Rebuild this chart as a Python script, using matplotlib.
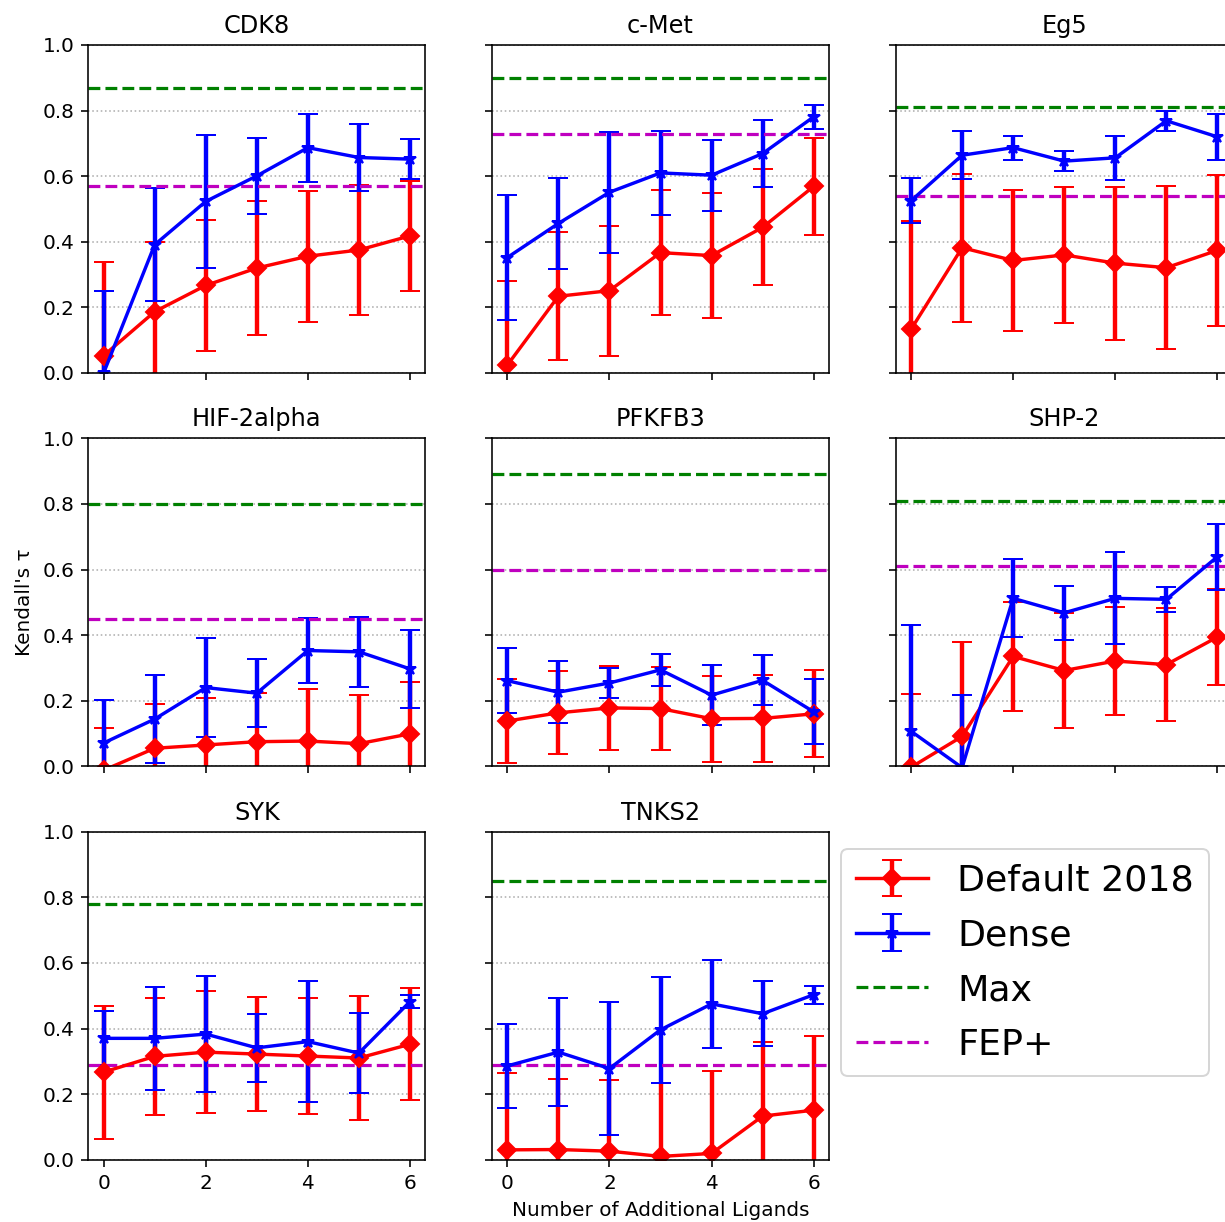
import matplotlib
matplotlib.use("Agg")
import matplotlib.pyplot as plt
import numpy as np

x = [0, 1, 2, 3, 4, 5, 6]
targets = ["CDK8", "c-Met", "Eg5", "HIF-2alpha", "PFKFB3", "SHP-2", "SYK", "TNKS2"]

default_mean = {
    "CDK8":       [0.053, 0.187, 0.267, 0.320, 0.356, 0.375, 0.418],
    "c-Met":      [0.024, 0.234, 0.251, 0.367, 0.358, 0.444, 0.569],
    "Eg5":        [0.133, 0.382, 0.343, 0.360, 0.335, 0.321, 0.374],
    "HIF-2alpha": [-0.012, 0.055, 0.065, 0.075, 0.077, 0.069, 0.099],
    "PFKFB3":     [0.138, 0.163, 0.178, 0.176, 0.145, 0.146, 0.160],
    "SHP-2":      [-0.003, 0.091, 0.335, 0.292, 0.321, 0.310, 0.394],
    "SYK":        [0.267, 0.315, 0.328, 0.322, 0.316, 0.310, 0.352],
    "TNKS2":      [0.030, 0.031, 0.026, 0.010, 0.019, 0.133, 0.151],
}
default_err = {
    "CDK8":       [0.285, 0.212, 0.200, 0.205, 0.200, 0.197, 0.168],
    "c-Met":      [0.255, 0.195, 0.198, 0.190, 0.190, 0.177, 0.148],
    "Eg5":        [0.330, 0.225, 0.216, 0.208, 0.233, 0.248, 0.230],
    "HIF-2alpha": [0.129, 0.136, 0.143, 0.147, 0.158, 0.149, 0.157],
    "PFKFB3":     [0.129, 0.127, 0.128, 0.126, 0.131, 0.132, 0.133],
    "SHP-2":      [0.222, 0.287, 0.167, 0.176, 0.166, 0.173, 0.146],
    "SYK":        [0.203, 0.179, 0.187, 0.174, 0.177, 0.188, 0.171],
    "TNKS2":      [0.233, 0.215, 0.216, 0.224, 0.251, 0.226, 0.225],
}
dense_mean = {
    "CDK8":       [0.000, 0.391, 0.523, 0.601, 0.687, 0.657, 0.652],
    "c-Met":      [0.352, 0.456, 0.551, 0.610, 0.603, 0.669, 0.781],
    "Eg5":        [0.525, 0.664, 0.687, 0.646, 0.656, 0.769, 0.720],
    "HIF-2alpha": [0.071, 0.144, 0.240, 0.223, 0.353, 0.349, 0.297],
    "PFKFB3":     [0.261, 0.226, 0.254, 0.294, 0.217, 0.262, 0.166],
    "SHP-2":      [0.107, -0.004, 0.512, 0.468, 0.512, 0.509, 0.639],
    "SYK":        [0.370, 0.370, 0.383, 0.341, 0.360, 0.325, 0.482],
    "TNKS2":      [0.286, 0.328, 0.278, 0.396, 0.475, 0.445, 0.503],
}
dense_err = {
    "CDK8":       [0.249, 0.172, 0.203, 0.115, 0.104, 0.101, 0.062],
    "c-Met":      [0.190, 0.140, 0.185, 0.128, 0.108, 0.101, 0.036],
    "Eg5":        [0.068, 0.073, 0.037, 0.030, 0.068, 0.030, 0.071],
    "HIF-2alpha": [0.130, 0.134, 0.150, 0.104, 0.098, 0.107, 0.120],
    "PFKFB3":     [0.100, 0.095, 0.045, 0.048, 0.091, 0.076, 0.099],
    "SHP-2":      [0.324, 0.222, 0.119, 0.082, 0.140, 0.039, 0.100],
    "SYK":        [0.082, 0.158, 0.178, 0.103, 0.185, 0.122, 0.020],
    "TNKS2":      [0.127, 0.165, 0.204, 0.161, 0.133, 0.099, 0.027],
}
max_tau = [0.87, 0.90, 0.81, 0.80, 0.89, 0.81, 0.78, 0.85]
fep_tau = [0.57, 0.73, 0.54, 0.45, 0.60, 0.61, 0.29, 0.29]

W, H = 1225, 1222
DPI = 144
fig = plt.figure(figsize=(W / DPI, H / DPI), dpi=DPI)

col_left = [88.3, 492.0, 895.7]
row_top = [45.0, 438.3, 831.7]
ax_w, ax_h = 337.0, 328.0

axes = []
for i, t in enumerate(targets):
    r, c = divmod(i, 3)
    ax = fig.add_axes([col_left[c] / W, (H - row_top[r] - ax_h) / H, ax_w / W, ax_h / H])
    axes.append(ax)
    h1 = ax.errorbar(x, default_mean[t], yerr=default_err[t], color='red', marker='D',
                     markersize=6.5, elinewidth=2.2, capsize=5, lw=1.7, label='Default 2018')
    h2 = ax.errorbar(x, dense_mean[t], yerr=dense_err[t], color='blue', marker='*',
                     markersize=6, elinewidth=2.2, capsize=5, lw=1.7, label='Dense')
    h3 = ax.axhline(max_tau[i], color='g', ls='--', lw=1.6, label='Max')
    h4 = ax.axhline(fep_tau[i], color='m', ls='--', lw=1.6, label='FEP+')
    ax.set_ylim(0, 1)
    ax.set_xlim(-0.3, 6.3)
    ax.set_xticks([0, 2, 4, 6])
    ax.set_yticks([0, 0.2, 0.4, 0.6, 0.8, 1.0])
    ax.grid(axis='y', ls=':', color='#b0b0b0')
    ax.set_axisbelow(True)
    ax.set_title(t, fontsize=12)
    if c != 0:
        ax.tick_params(labelleft=False)
    if r != 2:
        ax.tick_params(labelbottom=False)
    if t == "HIF-2alpha":
        ax.set_ylabel("Kendall's \u03c4")
    if t == "TNKS2":
        ax.set_xlabel("Number of Additional Ligands")

fig.legend([h1, h2, h3, h4], ['Default 2018', 'Dense', 'Max', 'FEP+'],
           loc='upper left', bbox_to_anchor=(841 / W, 1 - 849 / H),
           borderaxespad=0, fontsize=18.2, labelspacing=0.57)

fig.savefig("out.png", dpi=DPI)
